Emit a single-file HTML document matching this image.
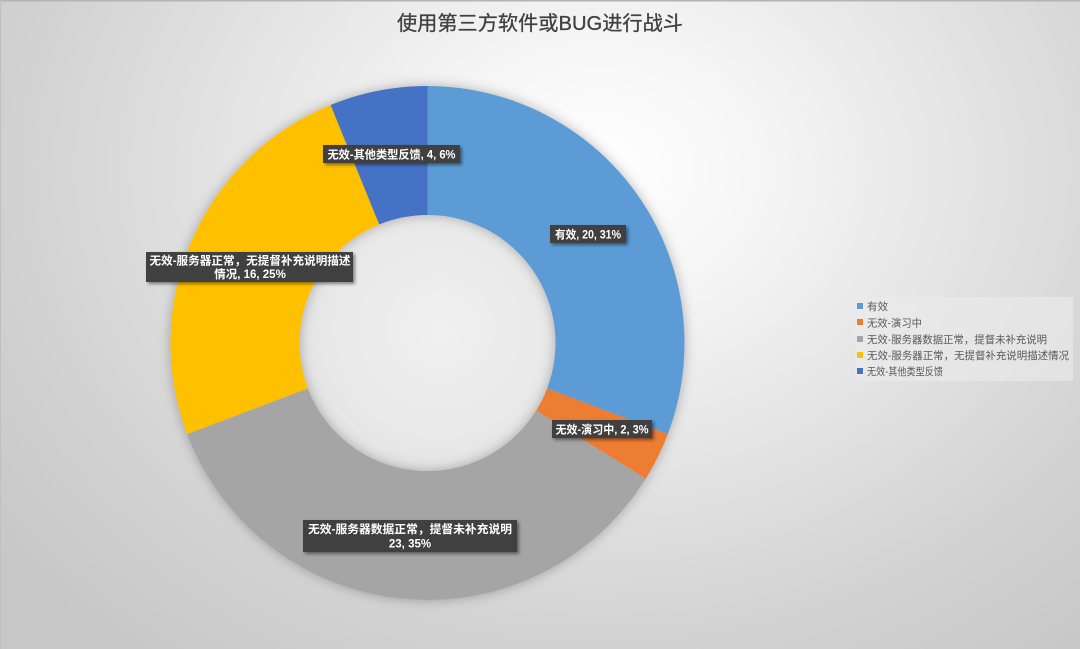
<!DOCTYPE html>
<html><head><meta charset="utf-8">
<style>
html,body{margin:0;padding:0;}
body{width:1080px;height:649px;overflow:hidden;
background: radial-gradient(ellipse 760px 620px at 600px 170px, #ffffff 0%, #f5f5f5 22%, #e3e3e3 50%, #d3d3d3 75%, #c7c7c7 100%);}
svg{position:absolute;left:0;top:0;}
text{font-family:"Liberation Sans","Noto Sans CJK SC",sans-serif;}
</style></head>
<body>
<svg width="1080" height="649" viewBox="0 0 1080 649" xmlns="http://www.w3.org/2000/svg">
<defs>
<filter id="sh" x="-20%" y="-20%" width="140%" height="140%">
<feDropShadow dx="0" dy="0" stdDeviation="6" flood-color="#000" flood-opacity="0.28"/>
</filter>
<filter id="lsh" x="-20%" y="-30%" width="140%" height="160%">
<feDropShadow dx="2" dy="2" stdDeviation="1.5" flood-color="#000" flood-opacity="0.45"/>
</filter>
<radialGradient id="hole" cx="0.55" cy="0.45" r="0.6">
<stop offset="0" stop-color="#f0f0f0"/>
<stop offset="0.7" stop-color="#e9e9e9"/>
<stop offset="1" stop-color="#e2e2e2"/>
</radialGradient>
</defs>
<rect x="0" y="0" width="1080" height="1.5" fill="#b4b4b4"/>
<rect x="0" y="0" width="1" height="649" fill="#c0c0c0"/>

<text x="540" y="30" text-anchor="middle" font-size="20" fill="#404040" stroke="#404040" stroke-width="0.3" textLength="286" lengthAdjust="spacingAndGlyphs">使用第三方软件或BUG进行战斗</text>

<circle cx="427.5" cy="343" r="128" fill="url(#hole)"/>

<g filter="url(#sh)">
<path d="M427.5,86 A257,257 0 0 1 667.80,434.13 L547.18,388.39 A128,128 0 0 0 427.5,215 Z" fill="#5B9BD5"/>
<path d="M667.80,434.13 A257,257 0 0 1 645.79,478.63 L536.22,410.55 A128,128 0 0 0 547.18,388.39 Z" fill="#ED7D31"/>
<path d="M645.79,478.63 A257,257 0 0 1 187.20,434.13 L307.82,388.39 A128,128 0 0 0 536.22,410.55 Z" fill="#A5A5A5"/>
<path d="M187.20,434.13 A257,257 0 0 1 330.59,104.97 L379.23,224.45 A128,128 0 0 0 307.82,388.39 Z" fill="#FFC000"/>
<path d="M330.59,104.97 A257,257 0 0 1 427.5,86 L427.5,215 A128,128 0 0 0 379.23,224.45 Z" fill="#4472C4"/>
</g>

<g font-weight="bold" font-size="11.5" fill="#ffffff" text-anchor="middle">
<rect x="550" y="225" width="76" height="18" fill="#404040" filter="url(#lsh)"/>
<text x="588" y="238.5" textLength="66" lengthAdjust="spacingAndGlyphs">有效, 20, 31%</text>

<rect x="552" y="420" width="100" height="18" fill="#404040" filter="url(#lsh)"/>
<text x="602" y="433.5" textLength="93" lengthAdjust="spacingAndGlyphs">无效-演习中, 2, 3%</text>

<rect x="323" y="145" width="137" height="18" fill="#404040" filter="url(#lsh)"/>
<text x="391.5" y="158.5" textLength="128" lengthAdjust="spacingAndGlyphs">无效-其他类型反馈, 4, 6%</text>

<rect x="146" y="252" width="207" height="30" fill="#404040" filter="url(#lsh)"/>
<text x="250" y="264.5" textLength="201" lengthAdjust="spacingAndGlyphs">无效-服务器正常，无提督补充说明描述</text>
<text x="250" y="278">情况, 16, 25%</text>

<rect x="303" y="520" width="214" height="32" fill="#404040" filter="url(#lsh)"/>
<text x="410" y="533" textLength="204" lengthAdjust="spacingAndGlyphs">无效-服务器数据正常，提督未补充说明</text>
<text x="410" y="547.5">23, 35%</text>
</g>

<rect x="855" y="297" width="218" height="84" fill="#ebebeb" fill-opacity="0.6"/>
<g font-size="10.5" fill="#595959">
<rect x="857" y="303" width="6" height="6" fill="#5B9BD5"/>
<text x="867" y="310" textLength="21" lengthAdjust="spacingAndGlyphs">有效</text>
<rect x="857" y="319" width="6" height="6" fill="#ED7D31"/>
<text x="867" y="326.5" textLength="55" lengthAdjust="spacingAndGlyphs">无效-演习中</text>
<rect x="857" y="336" width="6" height="6" fill="#A5A5A5"/>
<text x="867" y="343" textLength="180" lengthAdjust="spacingAndGlyphs">无效-服务器数据正常，提督未补充说明</text>
<rect x="857" y="352" width="6" height="6" fill="#FFC000"/>
<text x="867" y="359" textLength="202" lengthAdjust="spacingAndGlyphs">无效-服务器正常，无提督补充说明描述情况</text>
<rect x="857" y="368" width="6" height="6" fill="#4472C4"/>
<text x="867" y="375" textLength="76" lengthAdjust="spacingAndGlyphs">无效-其他类型反馈</text>
</g>
</svg>
</body></html>
